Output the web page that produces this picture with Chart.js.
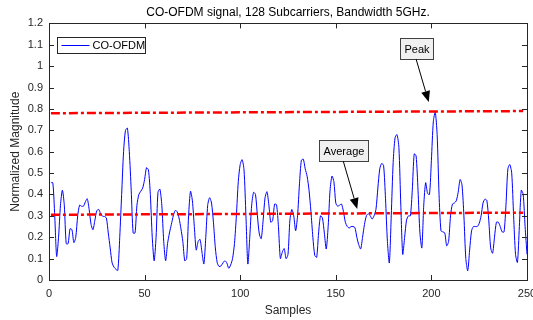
<!DOCTYPE html>
<html>
<head>
<meta charset="utf-8">
<script src="https://cdn.jsdelivr.net/npm/chart.js@4.4.1/dist/chart.umd.min.js"></script>
<style>
  body { margin: 0; background: #fff; }
  canvas { display: block; }
</style>
</head>
<body>
<canvas id="sig" width="533" height="320"></canvas>
<script>
// normalized magnitude, samples 1..250
var magnitude = [
  0.455, 0.455, 0.30, 0.11, 0.20, 0.35, 0.42, 0.35, 0.17, 0.17,
  0.24, 0.235, 0.175, 0.20, 0.30, 0.35, 0.345, 0.345, 0.365, 0.38,
  0.33, 0.26, 0.235, 0.28, 0.324, 0.33, 0.31, 0.298, 0.297, 0.29,
  0.22, 0.15, 0.08, 0.06, 0.05, 0.045, 0.20, 0.40, 0.60, 0.70,
  0.71, 0.60, 0.42, 0.22, 0.22, 0.35, 0.40, 0.415, 0.43, 0.47,
  0.525, 0.515, 0.40, 0.20, 0.09, 0.20, 0.41, 0.425, 0.35, 0.18,
  0.09, 0.17, 0.22, 0.26, 0.30, 0.325, 0.32, 0.29, 0.24, 0.18,
  0.09, 0.10, 0.30, 0.415, 0.37, 0.25, 0.14, 0.18, 0.19, 0.13,
  0.075, 0.20, 0.35, 0.385, 0.36, 0.27, 0.15, 0.08, 0.063, 0.066,
  0.08, 0.09, 0.08, 0.055, 0.07, 0.10, 0.17, 0.30, 0.46, 0.54,
  0.563, 0.515, 0.30, 0.075, 0.20, 0.35, 0.41, 0.40, 0.30, 0.215,
  0.193, 0.28, 0.385, 0.413, 0.35, 0.27, 0.28, 0.355, 0.352, 0.25,
  0.10, 0.13, 0.147, 0.10, 0.12, 0.28, 0.33, 0.30, 0.23, 0.30,
  0.45, 0.56, 0.565, 0.52, 0.485, 0.42, 0.32, 0.20, 0.115, 0.106,
  0.22, 0.30, 0.29, 0.22, 0.145, 0.25, 0.42, 0.486, 0.46, 0.36,
  0.345, 0.35, 0.355, 0.32, 0.27, 0.25, 0.243, 0.25, 0.25, 0.245,
  0.20, 0.165, 0.145, 0.20, 0.26, 0.30, 0.31, 0.30, 0.285, 0.30,
  0.33, 0.43, 0.52, 0.545, 0.535, 0.38, 0.18, 0.08, 0.30, 0.55,
  0.665, 0.68, 0.62, 0.35, 0.12, 0.20, 0.28, 0.30, 0.30, 0.42,
  0.59, 0.58, 0.42, 0.22, 0.15, 0.35, 0.455, 0.405, 0.40, 0.56,
  0.74, 0.785, 0.68, 0.40, 0.23, 0.225, 0.22, 0.16, 0.18, 0.30,
  0.355, 0.36, 0.37, 0.41, 0.47, 0.445, 0.30, 0.10, 0.043, 0.14,
  0.23, 0.25, 0.25, 0.25, 0.265, 0.30, 0.36, 0.378, 0.372, 0.28,
  0.15, 0.125, 0.20, 0.27, 0.27, 0.25, 0.225, 0.225, 0.35, 0.52,
  0.54, 0.50, 0.30, 0.12, 0.082, 0.25, 0.42, 0.40, 0.25, 0.12
];

// reference lines: [x start, x end], [y start, y end]
var refX = [1, 248];
var peakY = [0.78, 0.79];
var avgY = [0.305, 0.315];

var xTicks = [0, 50, 100, 150, 200, 250];
var yMax = 1.2;

// text arrows: label, box centre, arrow tail, arrow head (data units)
var peakNote = ['Peak', [192, 1.084], [192, 1.033], [198.6, 0.832]];
var avgNote = ['Average', [153.9, 0.607], [153.9, 0.556], [161.2, 0.332]];

var FONT = '"Liberation Sans", Arial, Helvetica, sans-serif';
var AX = '#262626';

var points = magnitude.map(function (v, i) { return { x: i + 1, y: v }; });

function refLine(ys) {
  return [{ x: refX[0], y: ys[0] }, { x: refX[1], y: ys[1] }];
}

var dashDot = [9, 3, 3, 3];

var decor = {
  id: 'decor',
  afterDatasetsDraw: function (chart) {
    var ctx = chart.ctx, a = chart.chartArea, xs = chart.scales.x, ys = chart.scales.y;
    ctx.save();

    // axes box
    ctx.strokeStyle = AX;
    ctx.lineWidth = 1;
    ctx.strokeRect(Math.round(a.left) + 0.5, Math.round(a.top) + 0.5,
      Math.round(a.right) - Math.round(a.left), Math.round(a.bottom) - Math.round(a.top));

    // inward ticks
    var tl = 5;
    ctx.beginPath();
    xTicks.forEach(function (t) {
      var px = Math.round(xs.getPixelForValue(t)) + 0.5;
      ctx.moveTo(px, a.bottom); ctx.lineTo(px, a.bottom - tl);
      ctx.moveTo(px, a.top); ctx.lineTo(px, a.top + tl);
    });
    for (var k = 0; k <= 12; k++) {
      var py = Math.round(ys.getPixelForValue(k / 10)) + 0.5;
      ctx.moveTo(a.left, py); ctx.lineTo(a.left + tl, py);
      ctx.moveTo(a.right, py); ctx.lineTo(a.right - tl, py);
    }
    ctx.stroke();

    // legend
    var lx = Math.round(a.left) + 8.5, ly = Math.round(a.top) + 14.5;
    ctx.font = '11px ' + FONT;
    var lw = 88, lh = 16;
    ctx.fillStyle = '#fff';
    ctx.fillRect(lx, ly, lw, lh);
    ctx.strokeStyle = AX;
    ctx.strokeRect(lx, ly, lw, lh);
    ctx.strokeStyle = '#0000ff';
    ctx.beginPath();
    ctx.moveTo(lx + 4, ly + 8); ctx.lineTo(lx + 32, ly + 8);
    ctx.stroke();
    ctx.fillStyle = '#000';
    ctx.textBaseline = 'middle';
    ctx.textAlign = 'left';
    ctx.fillText(chart.data.datasets[0].label, lx + 35, ly + 8.5);

    // text arrows
    [peakNote, avgNote].forEach(function (n) {
      var cx = xs.getPixelForValue(n[1][0]), cy = ys.getPixelForValue(n[1][1]);
      var tw = ctx.measureText(n[0]).width;
      var bw = Math.round(tw + 8), bh = 21;
      var bx = Math.round(cx - bw / 2) + 0.5, by = Math.round(cy - bh / 2) + 0.5;
      ctx.fillStyle = '#f0f0f0';
      ctx.fillRect(bx, by, bw, bh);
      ctx.strokeStyle = '#404040';
      ctx.strokeRect(bx, by, bw, bh);
      ctx.fillStyle = '#000';
      ctx.textAlign = 'center';
      ctx.fillText(n[0], bx + bw / 2, by + bh / 2 + 0.5);

      var x0 = xs.getPixelForValue(n[2][0]), y0 = ys.getPixelForValue(n[2][1]);
      var x1 = xs.getPixelForValue(n[3][0]), y1 = ys.getPixelForValue(n[3][1]);
      var ang = Math.atan2(y1 - y0, x1 - x0);
      var hl = 11, hw = 4.5;
      var bxh = x1 - hl * Math.cos(ang), byh = y1 - hl * Math.sin(ang);
      ctx.strokeStyle = '#000';
      ctx.lineWidth = 1;
      ctx.beginPath();
      ctx.moveTo(x0, y0); ctx.lineTo(bxh, byh);
      ctx.stroke();
      ctx.fillStyle = '#000';
      ctx.beginPath();
      ctx.moveTo(x1, y1);
      ctx.lineTo(bxh + hw * Math.sin(ang), byh - hw * Math.cos(ang));
      ctx.lineTo(bxh - hw * Math.sin(ang), byh + hw * Math.cos(ang));
      ctx.closePath();
      ctx.fill();
    });

    ctx.restore();
  }
};

function noPad(s) {
  s.paddingLeft = 0; s.paddingRight = 0; s.paddingTop = 0; s.paddingBottom = 0;
}

var ctx = document.getElementById('sig');
var chart = new Chart(ctx, {
  type: 'line',
  data: {
    datasets: [{
      label: 'CO-OFDM',
      data: points,
      borderColor: '#0000ff',
      borderWidth: 1,
      pointRadius: 0,
      tension: 0.25,
      order: 3
    }, {
      label: 'peak',
      data: refLine(peakY),
      borderColor: '#ff0000',
      borderWidth: 2.5,
      borderDash: dashDot,
      pointRadius: 0,
      order: 1
    }, {
      label: 'average',
      data: refLine(avgY),
      borderColor: '#ff0000',
      borderWidth: 2.5,
      borderDash: dashDot,
      pointRadius: 0,
      order: 1
    }]
  },
  options: {
    responsive: false,
    animation: false,
    devicePixelRatio: 1,
    layout: { padding: { left: 0, right: 6, top: 0, bottom: 0 } },
    plugins: {
      legend: { display: false },
      tooltip: { enabled: false },
      title: {
        display: true,
        fullSize: false,
        text: 'CO-OFDM signal, 128 Subcarriers, Bandwidth 5GHz.',
        color: '#000',
        font: { family: FONT, size: 12, weight: 'normal' },
        padding: { top: 5, bottom: 4 }
      }
    },
    scales: {
      x: {
        type: 'linear',
        min: 0,
        max: 250,
        grid: { display: false, drawTicks: false },
        border: { display: false },
        ticks: {
          stepSize: 50,
          padding: 7,
          color: AX,
          font: { family: FONT, size: 11 }
        },
        title: {
          display: true,
          text: 'Samples',
          color: AX,
          font: { family: FONT, size: 12 },
          padding: { top: 0, bottom: 2 }
        },
        afterFit: function (s) { s.height = 40; noPad(s); }
      },
      y: {
        min: 0,
        max: yMax,
        grid: { display: false, drawTicks: false },
        border: { display: false },
        ticks: {
          stepSize: 0.1,
          padding: 6,
          color: AX,
          font: { family: FONT, size: 11 },
          callback: function (v) { return String(Math.round(v * 10) / 10); }
        },
        title: {
          display: true,
          text: 'Normalized Magnitude',
          color: AX,
          font: { family: FONT, size: 12 },
          padding: { top: 8, bottom: 0 }
        },
        afterFit: function (s) { s.width = 49; noPad(s); }
      }
    }
  },
  plugins: [decor]
});
</script>
</body>
</html>
